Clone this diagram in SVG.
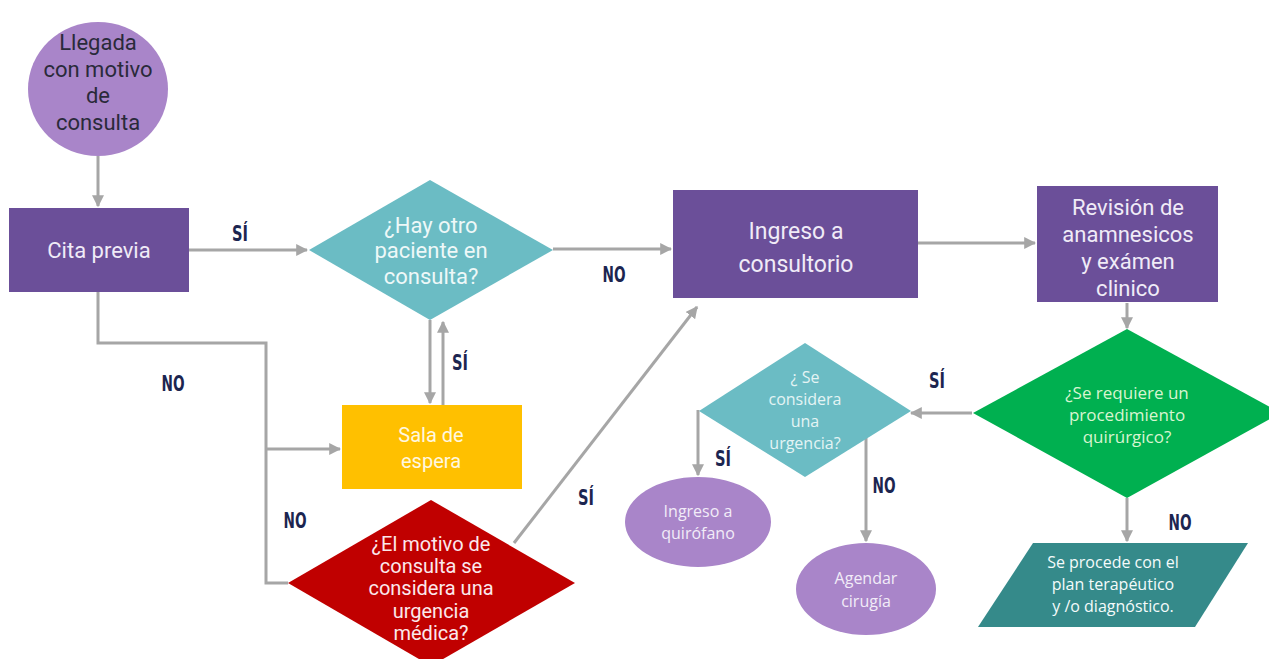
<svg xmlns="http://www.w3.org/2000/svg" width="1269" height="659" viewBox="0 0 1269 659">
<style>
.c{fill:none;stroke:#a6a6a6;stroke-width:3}
.t{font-family:Roboto,"Liberation Sans",sans-serif;font-size:22px;text-anchor:middle}
.s{font-family:"Open Sans","Liberation Sans",sans-serif;font-size:16px;text-anchor:middle}
.lb{font-family:"Liberation Sans Narrow","DejaVu Sans Condensed","Liberation Sans",sans-serif;font-weight:bold;font-size:21px;fill:#1c2550;text-anchor:middle}
.w{fill:#f0ebf7}
</style>
<defs>
<marker id="a" viewBox="0 0 10 10" refX="9" refY="5" markerWidth="4" markerHeight="4" orient="auto" markerUnits="strokeWidth">
<path d="M0,0 L10,5 L0,10 z" fill="#a6a6a6"/>
</marker>
</defs>
<rect width="1269" height="659" fill="#ffffff"/>
<g id="connectors">
<line class="c" x1="98" y1="156" x2="98" y2="206" marker-end="url(#a)"/>
<line class="c" x1="189" y1="250" x2="307" y2="250" marker-end="url(#a)"/>
<line class="c" x1="553" y1="249" x2="671" y2="249" marker-end="url(#a)"/>
<line class="c" x1="918" y1="243" x2="1035" y2="243" marker-end="url(#a)"/>
<polyline class="c" points="98,292 98,343 266,343 266,583 288,583"/>
<line class="c" x1="266" y1="449" x2="340" y2="449" marker-end="url(#a)"/>
<line class="c" x1="430" y1="320" x2="430" y2="403" marker-end="url(#a)"/>
<line class="c" x1="443" y1="405" x2="443" y2="322" marker-end="url(#a)"/>
<line class="c" x1="514" y1="543" x2="697" y2="307" marker-end="url(#a)"/>
<line class="c" x1="1127" y1="303" x2="1127" y2="328" marker-end="url(#a)"/>
<line class="c" x1="972" y1="413" x2="911" y2="413" marker-end="url(#a)"/>
<line class="c" x1="698" y1="410" x2="698" y2="475" marker-end="url(#a)"/>
<line class="c" x1="866" y1="438" x2="866" y2="541" marker-end="url(#a)"/>
<line class="c" x1="1127" y1="498" x2="1127" y2="541" marker-end="url(#a)"/>
</g>
<g id="labels">
<text class="lb" x="240" y="241" textLength="16" lengthAdjust="spacingAndGlyphs">SÍ</text>
<text class="lb" x="614" y="282" textLength="23" lengthAdjust="spacingAndGlyphs">NO</text>
<text class="lb" x="173" y="391" textLength="23" lengthAdjust="spacingAndGlyphs">NO</text>
<text class="lb" x="460" y="370" textLength="16" lengthAdjust="spacingAndGlyphs">SÍ</text>
<text class="lb" x="295" y="528" textLength="23" lengthAdjust="spacingAndGlyphs">NO</text>
<text class="lb" x="586" y="505" textLength="16" lengthAdjust="spacingAndGlyphs">SÍ</text>
<text class="lb" x="937" y="388" textLength="16" lengthAdjust="spacingAndGlyphs">SÍ</text>
<text class="lb" x="723" y="466" textLength="16" lengthAdjust="spacingAndGlyphs">SÍ</text>
<text class="lb" x="884" y="493" textLength="23" lengthAdjust="spacingAndGlyphs">NO</text>
<text class="lb" x="1180" y="530" textLength="23" lengthAdjust="spacingAndGlyphs">NO</text>
</g>
<g id="llegada">
<ellipse cx="98" cy="89" rx="70" ry="67" fill="#a985c9"/>
<text class="t" x="98" y="50" fill="#2a2a3a">Llegada</text>
<text class="t" x="98" y="77" fill="#2a2a3a">con motivo</text>
<text class="t" x="98" y="103" fill="#2a2a3a">de</text>
<text class="t" x="98" y="130" fill="#2a2a3a">consulta</text>
</g>
<g id="cita">
<rect x="9" y="208" width="180" height="84" fill="#6b4f99"/>
<text class="t w" x="99" y="258">Cita previa</text>
</g>
<g id="hay-otro">
<polygon points="430,180 553,250 430,320 309,250" fill="#6bbcc4"/>
<text class="t" x="431" y="233" fill="#eef8f8">¿Hay otro</text>
<text class="t" x="431" y="258" fill="#eef8f8">paciente en</text>
<text class="t" x="431" y="284" fill="#eef8f8">consulta?</text>
</g>
<g id="ingreso-consultorio">
<rect x="673" y="190" width="245" height="108" fill="#6b4f99"/>
<text class="t w" x="796" y="239" style="font-size:23px">Ingreso  a</text>
<text class="t w" x="796" y="272" style="font-size:23px">consultorio</text>
</g>
<g id="revision">
<rect x="1037" y="186" width="181" height="116" fill="#6b4f99"/>
<text class="t w" x="1128" y="215">Revisión de</text>
<text class="t w" x="1128" y="242">anamnesicos</text>
<text class="t w" x="1128" y="269">y exámen</text>
<text class="t w" x="1128" y="296">clinico</text>
</g>
<g id="sala">
<rect x="342" y="405" width="180" height="84" fill="#ffc000"/>
<text class="t" x="431" y="442" fill="#fff8e0" style="font-size:20px">Sala de</text>
<text class="t" x="431" y="468" fill="#fff8e0" style="font-size:20px">espera</text>
</g>
<g id="motivo-urgencia">
<polygon points="431,500 575,583 431,666 288,583" fill="#c00000"/>
<text class="t" x="431" y="551" fill="#fbe8ec" style="font-size:20px">¿El motivo de</text>
<text class="t" x="431" y="573" fill="#fbe8ec" style="font-size:20px">consulta se</text>
<text class="t" x="431" y="595" fill="#fbe8ec" style="font-size:20px">considera una</text>
<text class="t" x="431" y="618" fill="#fbe8ec" style="font-size:20px">urgencia</text>
<text class="t" x="431" y="640" fill="#fbe8ec" style="font-size:20px">médica?</text>
</g>
<g id="requiere">
<polygon points="1127,329 1281,413 1127,498 973,413" fill="#00b050"/>
<text class="s" x="1127" y="399" fill="#d8f5d0" style="font-size:17px">¿Se requiere un</text>
<text class="s" x="1127" y="421" fill="#d8f5d0" style="font-size:17px">procedimiento</text>
<text class="s" x="1127" y="443" fill="#d8f5d0" style="font-size:17px">quirúrgico?</text>
</g>
<g id="se-considera">
<polygon points="805,343 911,411 805,477 699,411" fill="#6bbcc4"/>
<text class="s" x="805" y="383" fill="#e4f4f4">¿ Se</text>
<text class="s" x="805" y="405" fill="#e4f4f4">considera</text>
<text class="s" x="805" y="427" fill="#e4f4f4">una</text>
<text class="s" x="805" y="449" fill="#e4f4f4">urgencia?</text>
</g>
<g id="quirofano">
<ellipse cx="698" cy="522" rx="73" ry="45" fill="#a985c9"/>
<text class="s" x="698" y="517" fill="#f2ecf8">Ingreso a</text>
<text class="s" x="698" y="539" fill="#f2ecf8">quirófano</text>
</g>
<g id="agendar">
<ellipse cx="866" cy="589" rx="70" ry="46" fill="#a985c9"/>
<text class="s" x="866" y="584" fill="#f2ecf8">Agendar</text>
<text class="s" x="866" y="607" fill="#f2ecf8">cirugía</text>
</g>
<g id="plan">
<polygon points="1033,543 1248,543 1195,627 978,627" fill="#358a8a"/>
<text class="s" x="1113" y="568" fill="#f4fbfb">Se procede con el</text>
<text class="s" x="1113" y="590" fill="#f4fbfb">plan terapéutico</text>
<text class="s" x="1113" y="612" fill="#f4fbfb">y /o diagnóstico.</text>
</g>
</svg>
